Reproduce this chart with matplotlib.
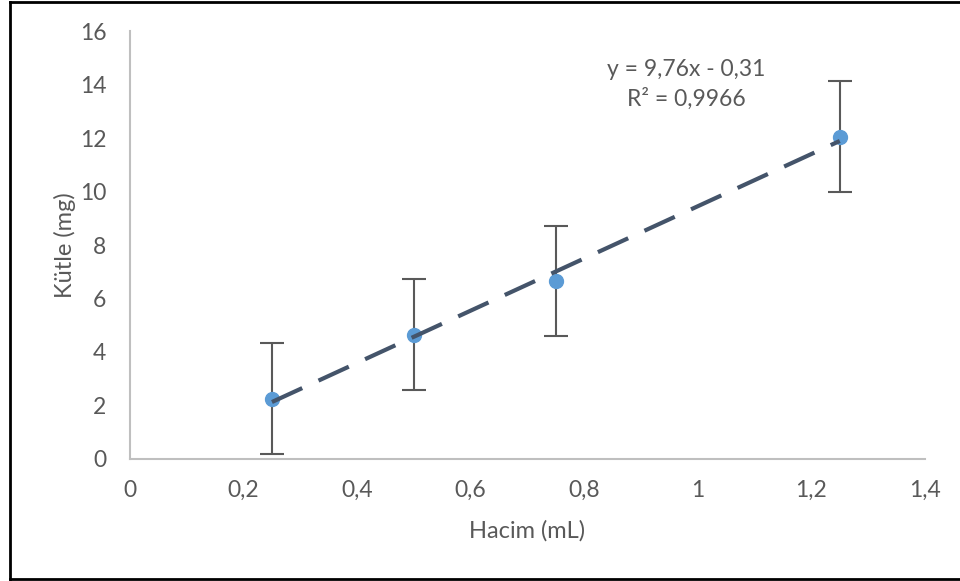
import numpy as np
import matplotlib
matplotlib.use("Agg")
import matplotlib.pyplot as plt
from matplotlib.lines import Line2D
from matplotlib.ticker import FuncFormatter

# volume (mL) vs mass (mg) with error bars
hacim = [0.25, 0.5, 0.75, 1.25]
kutle = [2.25, 4.65, 6.65, 12.05]
hata = [2.07, 2.07, 2.07, 2.07]

x_ticks = [0, 0.2, 0.4, 0.6, 0.8, 1.0, 1.2, 1.4]
y_ticks = [0, 2, 4, 6, 8, 10, 12, 14, 16]

plt.rcParams["font.family"] = ["Lato", "DejaVu Sans"]
text_col = "#595959"
fs = 16.5

fig = plt.figure(figsize=(9.6, 5.81), dpi=100)
ax = fig.add_axes([0.1354, 0.21, 0.8281, 0.7366])

ax.errorbar(hacim, kutle, yerr=hata, fmt="none", ecolor="#595959",
            elinewidth=1.5, capsize=8.5, capthick=1.5, zorder=2)
ax.plot(hacim, kutle, "o", color="#5B9BD5", markersize=10, zorder=3)

# linear trendline
slope, icpt = np.polyfit(hacim, kutle, 1)
xs = np.array([min(hacim), max(hacim)])
ax.plot(xs, slope * xs + icpt, color="#44546A", lw=3,
        dashes=(8, 4.3), zorder=4)

r2 = np.corrcoef(hacim, kutle)[0, 1] ** 2
sign = "-" if icpt < 0 else "+"
eq = f"y = {slope:.2f}x {sign} {abs(icpt):.2f}".replace(".", ",")
ax.text(0.979, 14.55, eq, ha="center", va="center", fontsize=fs, color=text_col)
ax.text(0.979, 13.45, f"R² = {r2:.4f}".replace(".", ","), ha="center",
        va="center", fontsize=fs, color=text_col)

ax.set_xlim(0, 1.4)
ax.set_ylim(0, 16)
ax.set_xticks(x_ticks)
ax.set_yticks(y_ticks)
ax.xaxis.set_major_formatter(FuncFormatter(lambda v, p: f"{v:g}".replace(".", ",")))
ax.tick_params(length=0, labelsize=fs, labelcolor=text_col)
ax.tick_params(axis="y", pad=17)
ax.tick_params(axis="x", pad=15)

for s in ["top", "right"]:
    ax.spines[s].set_visible(False)
for s in ["left", "bottom"]:
    ax.spines[s].set_color("#BFBFBF")
    ax.spines[s].set_linewidth(1.5)

ax.set_xlabel("Hacim (mL)", fontsize=fs + 0.5, color=text_col, labelpad=14)
ax.set_ylabel("Kütle (mg)", fontsize=fs + 0.5, color=text_col, labelpad=3)

# outer frame (left, top, bottom)
for xy in [([0.0099, 0.0099], [0.004, 0.997]),
           ([0.0099, 1.0], [0.997, 0.997]),
           ([0.0099, 1.0], [0.004, 0.004])]:
    fig.add_artist(Line2D(xy[0], xy[1], color="black", lw=2,
                          transform=fig.transFigure))

fig.savefig("out.png", dpi=100, facecolor="white")
